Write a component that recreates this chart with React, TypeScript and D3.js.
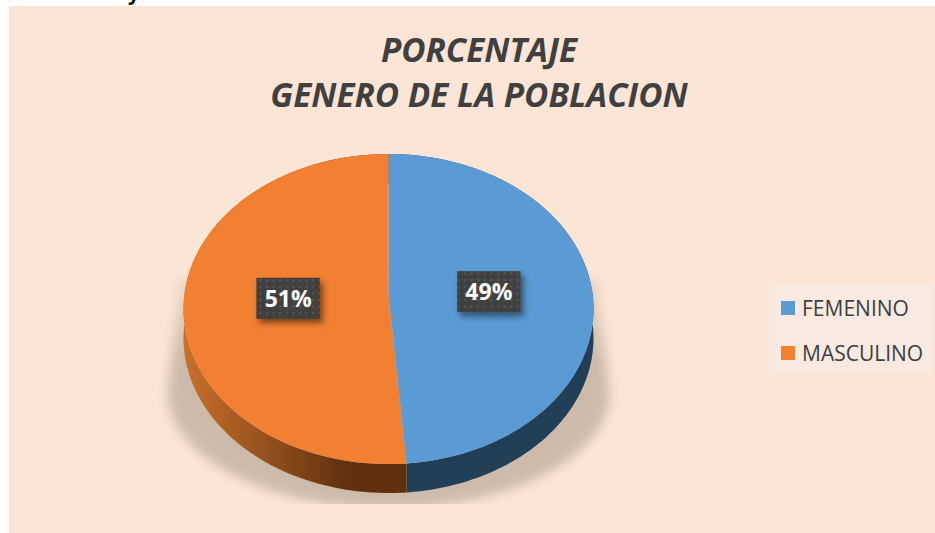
import React from "react";
import * as d3 from "d3";

const categories = ["FEMENINO", "MASCULINO"];
const values = [48.6, 51.4];
const colours = ["#5B9BD5", "#F28032"];
const titleLines = ["PORCENTAJE", "GENERO DE LA POBLACION"];

const W = 935, H = 533;
const cx = 388.5, cy = 309, rx = 205, ry = 155, depth = 29;
const apexY = 295;
const font = "'Open Sans', 'Noto Sans', sans-serif";
const textCol = "#404040";

const pie = d3.pie<number>().sort(null).startAngle(0).endAngle(2 * Math.PI);
const slices = pie(values);
const pct = d3.format(".0%");
const xs = d3.scaleLinear().domain([-1, 1]).range([cx - rx, cx + rx]);
const ys = d3.scaleLinear().domain([-1, 1]).range([cy - ry, cy + ry]);
const line = d3.line<[number, number]>();

function rim(a0: number, a1: number, dy = 0): [number, number][] {
  const n = 120;
  return d3.range(n + 1).map((i) => {
    const a = a0 + ((a1 - a0) * i) / n;
    return [xs(Math.sin(a)), ys(-Math.cos(a)) + dy] as [number, number];
  });
}

// Outline of the soft shadow: lower half of an enlarged rim, with straight flanks rising to the widest point
function shadowPath(): string {
  const pts: [number, number][] = [];
  pts.push([cx + rx + 2, cy - 30]);
  const n = 80;
  for (let i = 0; i <= n; i++) {
    const a = (i / n) * Math.PI;
    pts.push([cx + Math.cos(a) * (rx + 16), 392 + Math.sin(a) * 116]);
  }
  pts.push([cx - rx - 2, cy - 30]);
  return line(pts) + "Z";
}

export default function App() {
  const legendX = 769, legendY = 285;
  return (
    <svg width={W} height={H} viewBox={`0 0 ${W} ${H}`} style={{ position: "fixed", left: 0, top: 0, display: "block" }}>
      <defs>
        <filter id="blur" x="-20%" y="-20%" width="140%" height="140%">
          <feGaussianBlur stdDeviation="6" />
        </filter>
        <linearGradient id="shadowFade" x1="0" x2="0" y1={cy - 30} y2={cy + 50} gradientUnits="userSpaceOnUse">
          <stop offset="0" stopColor="#fff" stopOpacity="0.4" />
          <stop offset="1" stopColor="#fff" stopOpacity="1" />
        </linearGradient>
        <mask id="fade" maskUnits="userSpaceOnUse" x="0" y="0" width={W} height={H}>
          <rect x="0" y="0" width={W} height={H} fill="url(#shadowFade)" />
        </mask>
        <clipPath id="shadowClip">
          <rect x="0" y="0" width={W} height={504} />
        </clipPath>
        <linearGradient id="orangeSide" x1={cx - rx} x2={cx - 40} y1="0" y2="0" gradientUnits="userSpaceOnUse">
          <stop offset="0" stopColor="#C9702B" />
          <stop offset="1" stopColor="#60300F" />
        </linearGradient>
        <pattern id="dots" width="6.6" height="6.6" patternUnits="userSpaceOnUse">
          <rect width="6.6" height="6.6" fill="#404040" />
          <rect x="2" y="2" width="2" height="2" fill="#595959" />
        </pattern>
        <filter id="labelShadow" x="-30%" y="-30%" width="170%" height="170%">
          <feDropShadow dx="3" dy="4" stdDeviation="3" floodColor="#000" floodOpacity="0.5" />
        </filter>
      </defs>

      <rect x={0} y={0} width={W} height={H} fill="#fff" />
      <rect x={9} y={6} width={W - 9} height={H - 6} fill="#FBE5D6" />
      <text x={128} y={0} fontFamily={font} fontSize={20} fontWeight="bold" fill="#000">y</text>

      {titleLines.map((t, i) => (
        <text key={t} x={479} y={62 + i * 45} textAnchor="middle" fontFamily={font} fontSize={33.3}
          fontWeight="bold" fontStyle="italic" fill={textCol}>{t}</text>
      ))}

      <g clipPath="url(#shadowClip)">
        <g mask="url(#fade)">
          <path d={shadowPath()} fill="#9E9080" opacity={0.5} filter="url(#blur)" />
        </g>
      </g>

      {slices.map((s, i) => {
        const top = rim(s.startAngle, s.endAngle);
        const bottom = rim(s.startAngle, s.endAngle, depth).reverse();
        return (
          <path key={"side" + i} d={line([...top, ...bottom]) + "Z"}
            fill={i === 0 ? "#223F58" : "url(#orangeSide)"} />
        );
      })}

      {slices.map((s, i) => {
        const pts: [number, number][] = [[cx, apexY], ...rim(s.startAngle, s.endAngle)];
        return <path key={"top" + i} d={line(pts) + "Z"} fill={colours[i]} />;
      })}

      {slices.map((s, i) => {
        const mid = (s.startAngle + s.endAngle) / 2;
        const px = cx + Math.sin(mid) * rx * 0.49;
        const py = apexY - Math.cos(mid) * ry * 0.49;
        const bw = 63.5, bh = 41;
        return (
          <g key={"lab" + i}>
            <rect x={px - bw / 2} y={py - bh / 2} width={bw} height={bh} fill="url(#dots)" filter="url(#labelShadow)" />
            <text x={px} y={py + 8.5} textAnchor="middle" fontFamily={font} fontSize={23} fontWeight="bold" fill="#fff">
              {pct(Math.round(values[i]) / 100)}
            </text>
          </g>
        );
      })}

      <rect x={legendX} y={legendY} width={164} height={90} fill="#F8EAE0" />
      {categories.map((c, i) => (
        <g key={c}>
          <rect x={781} y={301 + i * 45} width={14} height={14} fill={colours[i]} />
          <text x={802} y={316 + i * 45} fontFamily={font} fontSize={21} fill={textCol}>{c}</text>
        </g>
      ))}
    </svg>
  );
}
